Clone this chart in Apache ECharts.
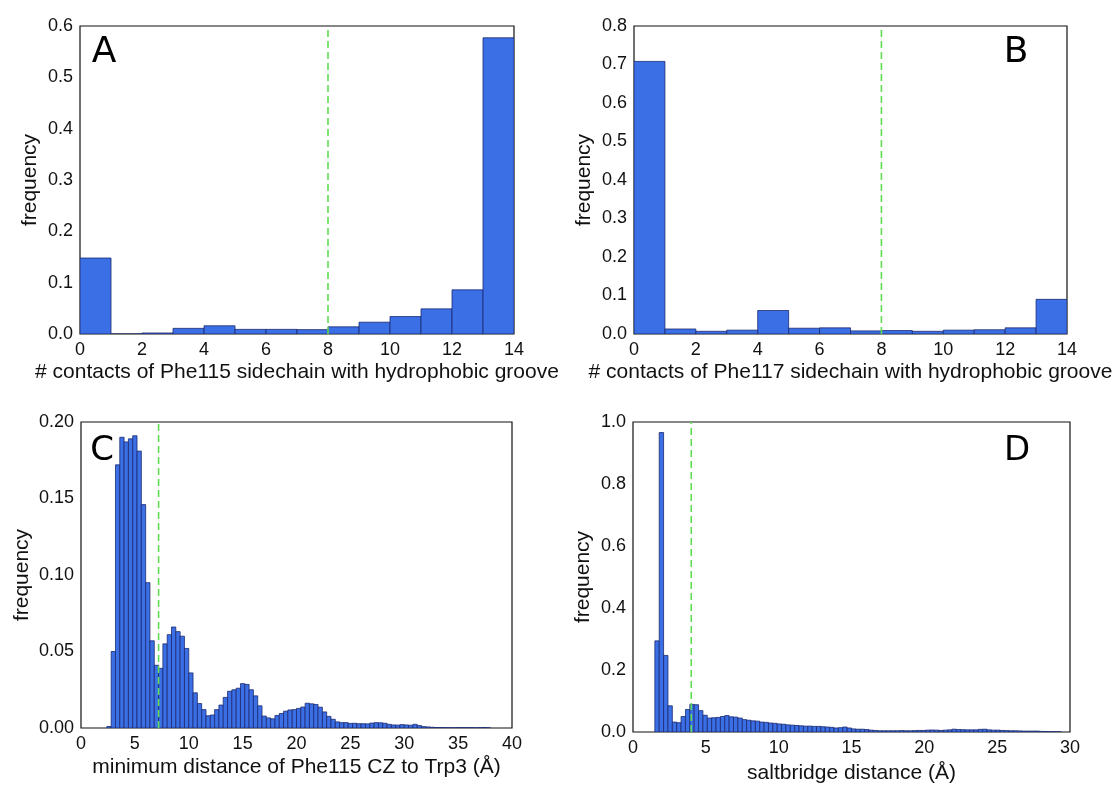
<!DOCTYPE html>
<html>
<head>
<meta charset="utf-8">
<script src="https://cdn.jsdelivr.net/npm/echarts@6/dist/echarts.min.js"></script>
<style>
  html, body { margin: 0; padding: 0; background: #ffffff; }
  #chart { width: 1120px; height: 785px; }
</style>
</head>
<body>
<div id="chart"></div>
<script>
// Panel A: contacts of Phe115 side chain with the hydrophobic groove (bins of 1, from 0)
const phe115ContactBinStart = 0;
const phe115ContactBinWidth = 1;
const phe115ContactFreq = [0.148, 0.0, 0.002, 0.011, 0.016, 0.009, 0.009, 0.0085, 0.014, 0.023, 0.034, 0.049, 0.086, 0.577];
const phe115ContactCutoff = 8;

// Panel B: contacts of Phe117 side chain with the hydrophobic groove
const phe117ContactBinStart = 0;
const phe117ContactBinWidth = 1;
const phe117ContactFreq = [0.708, 0.013, 0.007, 0.010, 0.061, 0.015, 0.016, 0.008, 0.009, 0.007, 0.010, 0.011, 0.016, 0.090];
const phe117ContactCutoff = 8;

// Panel C: minimum distance Phe115 CZ - Trp3 (bins of 0.4 Å starting at 2.4 Å)
const czTrpBinStart = 2.4;
const czTrpBinWidth = 0.4;
const czTrpFreq = [
  0.001, 0.050, 0.172, 0.190, 0.187, 0.189, 0.191, 0.181, 0.146, 0.095,
  0.057, 0.041, 0.039, 0.055, 0.061, 0.066, 0.063, 0.060, 0.052, 0.036,
  0.023, 0.016, 0.012, 0.008, 0.0085, 0.012, 0.015, 0.020, 0.024, 0.025,
  0.026, 0.029, 0.0285, 0.025, 0.021, 0.0145, 0.0078, 0.0066, 0.006, 0.0082,
  0.0095, 0.011, 0.0118, 0.012, 0.0128, 0.0137, 0.0162, 0.0158, 0.0154, 0.0136,
  0.0105, 0.0076, 0.0057, 0.0040, 0.0035, 0.0035, 0.0030, 0.0031, 0.0028, 0.0028,
  0.0027, 0.0032, 0.0035, 0.0034, 0.0031, 0.0024, 0.0020, 0.0019, 0.0022, 0.0020,
  0.0018, 0.0024, 0.0016, 0.0009, 0.0007, 0.0005, 0.0003, 0.0003, 0.0002, 0.0002,
  0.0001, 0.0002, 0.0003, 0.0002, 0.0002, 0.0001, 0.0002, 0.0003, 0.0001
];
const czTrpCutoff = 7.2;

// Panel D: salt bridge distance (bins of 0.3 Å starting at 1.5 Å)
const saltBinStart = 1.5;
const saltBinWidth = 0.3;
const saltFreq = [
  0.294, 0.966, 0.247, 0.0845, 0.032, 0.030, 0.050, 0.0727, 0.089, 0.088,
  0.069, 0.054, 0.045, 0.046, 0.047, 0.050, 0.053, 0.049, 0.048, 0.045,
  0.040, 0.038, 0.036, 0.035, 0.032, 0.031, 0.029, 0.028, 0.026, 0.025,
  0.023, 0.022, 0.021, 0.020, 0.019, 0.019, 0.018, 0.018, 0.017, 0.016,
  0.015, 0.013, 0.014, 0.016, 0.013, 0.010, 0.009, 0.009, 0.008, 0.006,
  0.005, 0.004, 0.004, 0.004, 0.004, 0.004, 0.0045, 0.004, 0.004, 0.0045,
  0.005, 0.005, 0.006, 0.0065, 0.006, 0.005, 0.006, 0.007, 0.009, 0.008,
  0.0075, 0.007, 0.007, 0.007, 0.0085, 0.009, 0.007, 0.006, 0.006, 0.005,
  0.0045, 0.004, 0.004, 0.0035, 0.003, 0.003, 0.003, 0.003, 0.002, 0.0015,
  0.001, 0.001, 0.0005
];
const saltCutoff = 4.0;

// Axis ranges and tick steps
const xRanges = [[0, 14, 2], [0, 14, 2], [0, 40, 5], [0, 30, 5]];
const yRanges = [[0, 0.6, 0.1, 1], [0, 0.8, 0.1, 1], [0, 0.20, 0.05, 2], [0, 1.0, 0.2, 1]];
const xNames = [
  '# contacts of Phe115 sidechain with hydrophobic groove',
  '# contacts of Phe117 sidechain with hydrophobic groove',
  'minimum distance of Phe115 CZ to Trp3 (Å)',
  'saltbridge distance (Å)'
];
const panelLetters = ['A', 'B', 'C', 'D'];

const BAR_FILL = '#3b6fe6';
const BAR_EDGE = '#1c2a70';
const CUT_COLOR = '#5fdc52';
const TEXT_FONT = '"Liberation Sans", Arial, sans-serif';

const grids = [
  { left: 80,  top: 26,  width: 434, height: 308 },
  { left: 634, top: 26,  width: 433, height: 308 },
  { left: 81,  top: 422, width: 431, height: 306 },
  { left: 633, top: 422, width: 437, height: 310 }
];
const xNameGaps = [28, 28, 29, 31];
const yNameGaps = [39, 39, 48, 39];

const histograms = [
  { start: phe115ContactBinStart, width: phe115ContactBinWidth, freq: phe115ContactFreq, cut: phe115ContactCutoff },
  { start: phe117ContactBinStart, width: phe117ContactBinWidth, freq: phe117ContactFreq, cut: phe117ContactCutoff },
  { start: czTrpBinStart, width: czTrpBinWidth, freq: czTrpFreq, cut: czTrpCutoff },
  { start: saltBinStart, width: saltBinWidth, freq: saltFreq, cut: saltCutoff }
];

function binRows(h) {
  return h.freq.map((v, i) => [h.start + i * h.width, h.start + (i + 1) * h.width, v]);
}

function renderBin(params, api) {
  const top = api.coord([api.value(0), api.value(2)]);
  const base = api.coord([api.value(1), 0]);
  return {
    type: 'rect',
    shape: { x: top[0], y: top[1], width: base[0] - top[0], height: base[1] - top[1] },
    style: { fill: BAR_FILL, stroke: BAR_EDGE, lineWidth: 0.8 }
  };
}

const option = {
  animation: false,
  backgroundColor: '#ffffff',
  grid: grids.map(g => Object.assign({ show: true, borderColor: '#111', borderWidth: 1.2, backgroundColor: 'transparent' }, g)),
  xAxis: xRanges.map((r, i) => ({
    type: 'value',
    gridIndex: i,
    min: r[0], max: r[1], interval: r[2],
    name: xNames[i],
    nameLocation: 'middle',
    nameGap: xNameGaps[i],
    nameTextStyle: { fontFamily: TEXT_FONT, fontSize: 21, color: '#111' },
    axisLine: { show: false },
    axisTick: { show: false },
    splitLine: { show: false },
    axisLabel: { fontFamily: TEXT_FONT, fontSize: 18, color: '#111', margin: 7 }
  })),
  yAxis: yRanges.map((r, i) => ({
    type: 'value',
    gridIndex: i,
    min: r[0], max: r[1], interval: r[2],
    name: 'frequency',
    nameLocation: 'middle',
    nameGap: yNameGaps[i],
    nameRotate: 90,
    nameTextStyle: { fontFamily: TEXT_FONT, fontSize: 21, color: '#111' },
    axisLine: { show: false },
    axisTick: { show: false },
    splitLine: { show: false },
    axisLabel: {
      fontFamily: TEXT_FONT, fontSize: 18, color: '#111', margin: 7,
      formatter: v => v.toFixed(r[3])
    }
  })),
  series: [],
  graphic: []
};

histograms.forEach((h, i) => {
  option.series.push({
    type: 'custom',
    xAxisIndex: i,
    yAxisIndex: i,
    renderItem: renderBin,
    encode: { x: [0, 1], y: 2 },
    data: binRows(h),
    clip: true,
    z: 2
  });
  option.series.push({
    type: 'line',
    xAxisIndex: i,
    yAxisIndex: i,
    data: [[h.cut, yRanges[i][0]], [h.cut, yRanges[i][1]]],
    symbol: 'none',
    silent: true,
    lineStyle: { color: CUT_COLOR, width: 1.6, type: [7, 4] },
    z: 3
  });
});

// Panel letters
const letterPos = [[104, 53, 36], [1016, 53, 36], [102, 451, 34], [1017, 451, 34]];
panelLetters.forEach((t, i) => {
  option.graphic.push({
    type: 'text',
    x: letterPos[i][0],
    y: letterPos[i][1],
    z: 10,
    style: {
      text: t,
      fontFamily: '"DejaVu Sans", sans-serif',
      fontSize: letterPos[i][2],
      fill: '#000',
      textAlign: 'center',
      textVerticalAlign: 'middle'
    }
  });
});

const chart = echarts.init(document.getElementById('chart'), null, { renderer: 'canvas' });
chart.setOption(option);
</script>
</body>
</html>
